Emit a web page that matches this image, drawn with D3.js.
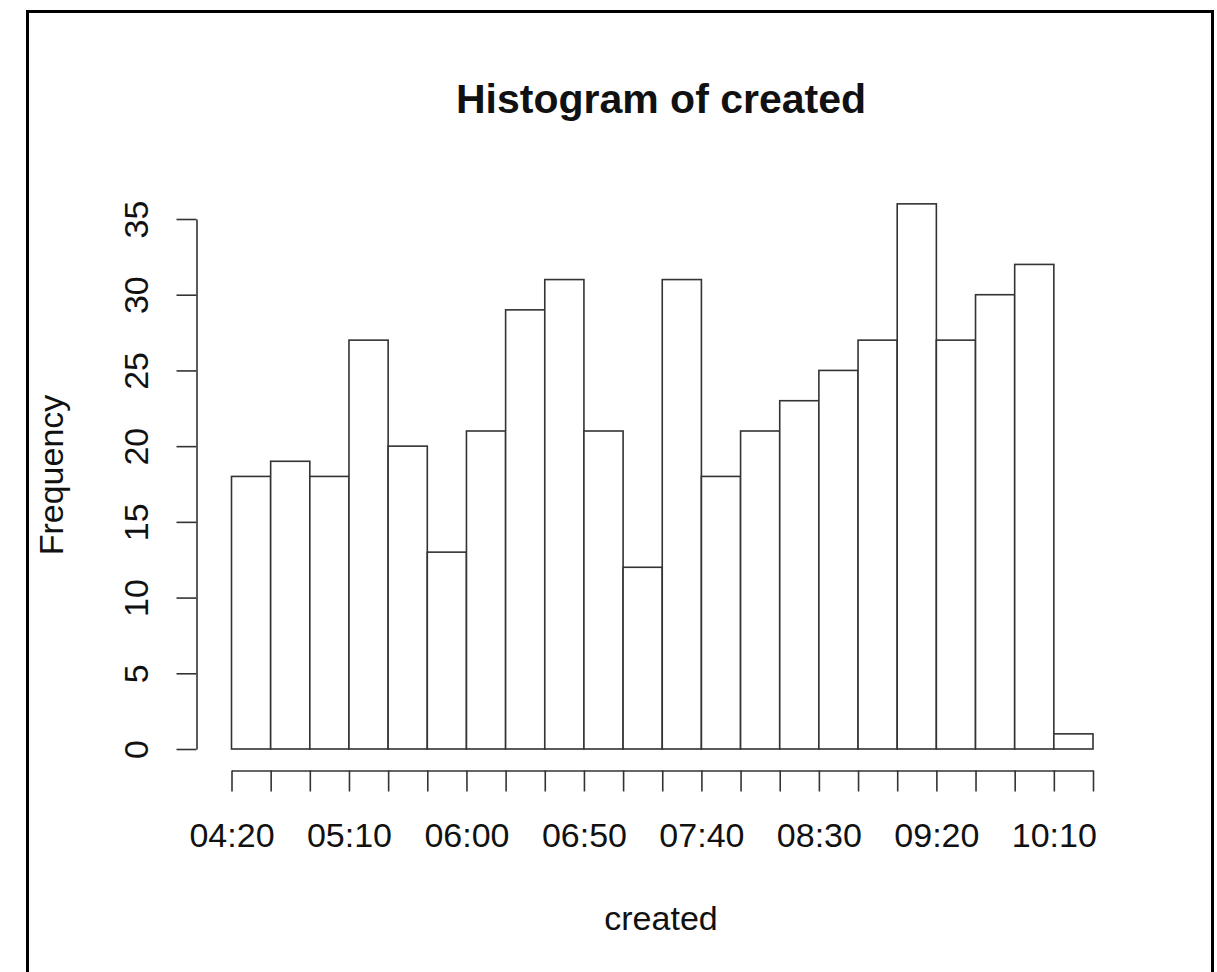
<!DOCTYPE html>
<html>
<head>
<meta charset="utf-8">
<script src="https://cdn.jsdelivr.net/npm/d3@7"></script>
<style>
  html, body { margin: 0; padding: 0; background: #fff; }
  svg { display: block; }
  text { font-family: "Liberation Sans", Arial, Helvetica, sans-serif; fill: #111; }
</style>
</head>
<body>
<script>
// ---- data ----
const breaks = ["04:20:00","04:36:40","04:53:20","05:10:00","05:26:40","05:43:20",
  "06:00:00","06:16:40","06:33:20","06:50:00","07:06:40","07:23:20","07:40:00",
  "07:56:40","08:13:20","08:30:00","08:46:40","09:03:20","09:20:00","09:36:40",
  "09:53:20","10:10:00","10:26:40"];
const counts = [18,19,18,27,20,13,21,29,31,21,12,31,18,21,23,25,27,36,27,30,32,1];
const yTicks = [0,5,10,15,20,25,30,35];
const labelEvery = 3; // R drops overlapping labels: every 3rd break is labelled
const title = "Histogram of created";
const xTitle = "created";
const yTitle = "Frequency";

// ---- drawing ----
const W = 1217, H = 972;
const parse = d3.timeParse("%H:%M:%S");
const edges = breaks.map(parse);
const fmt = d3.timeFormat("%H:%M");

const svg = d3.select("body").append("svg").attr("width", W).attr("height", H);

// frame
svg.append("rect").attr("x", 27.5).attr("y", 11.5).attr("width", 1185).attr("height", 1000)
  .attr("fill", "none").attr("stroke", "#000").attr("stroke-width", 3);

const x = d3.scaleTime().domain([edges[0], edges[edges.length - 1]]).range([231.5, 1093]);
const y = d3.scaleLinear().domain([0, 35]).range([749, 219]);

const lineCol = "#333";

// bars
svg.append("g").selectAll("rect").data(counts).join("rect")
  .attr("x", (d, i) => x(edges[i]))
  .attr("width", (d, i) => x(edges[i + 1]) - x(edges[i]))
  .attr("y", d => y(d))
  .attr("height", d => y(0) - y(d))
  .attr("fill", "#fff").attr("stroke", lineCol).attr("stroke-width", 1.6);

// x axis
const xAxis = d3.axisBottom(x).tickValues(edges)
  .tickFormat((d, i) => (i % labelEvery === 0 ? fmt(d) : ""))
  .tickSizeInner(21).tickSizeOuter(0);
const gx = svg.append("g").attr("transform", "translate(0,770.5)").call(xAxis);
gx.select(".domain").attr("stroke", lineCol).attr("stroke-width", 1.6);
gx.selectAll(".tick line").attr("stroke", lineCol).attr("stroke-width", 1.6);
gx.selectAll(".tick text").attr("y", 76).attr("dy", 0)
  .style("font-size", "34px").attr("fill", "#111");

// y axis
const yAxis = d3.axisLeft(y).tickValues(yTicks).tickSizeInner(20).tickSizeOuter(0);
const gy = svg.append("g").attr("transform", "translate(196.5,0)").call(yAxis);
gy.select(".domain").attr("stroke", lineCol).attr("stroke-width", 1.6);
gy.selectAll(".tick line").attr("stroke", lineCol).attr("stroke-width", 1.6);
gy.selectAll(".tick text")
  .attr("transform", "rotate(-90)")
  .attr("x", 0).attr("y", -48.5).attr("dy", 0)
  .attr("text-anchor", "middle")
  .style("font-size", "34px").attr("fill", "#111");

// titles
svg.append("text").attr("x", 661).attr("y", 113).attr("text-anchor", "middle")
  .style("font-size", "41px").style("font-weight", "bold").text(title);
svg.append("text").attr("x", 661).attr("y", 930).attr("text-anchor", "middle")
  .style("font-size", "34px").text(xTitle);
svg.append("text").attr("transform", "translate(63,475) rotate(-90)").attr("text-anchor", "middle")
  .style("font-size", "34px").text(yTitle);
</script>
</body>
</html>
